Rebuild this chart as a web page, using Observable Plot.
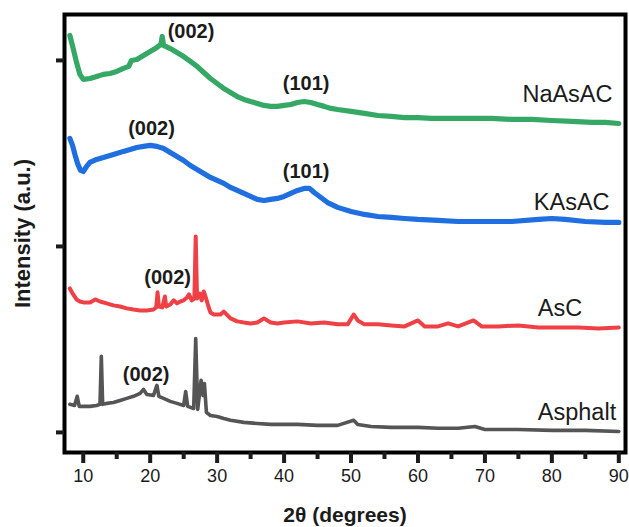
<!DOCTYPE html>
<html>
<head>
<meta charset="utf-8">
<script src="https://cdn.jsdelivr.net/npm/d3@7"></script>
<script src="https://cdn.jsdelivr.net/npm/@observablehq/plot@0.6"></script>
<style>
  html, body { margin: 0; padding: 0; background: #fff; }
  #chart svg { display: block; }
</style>
</head>
<body>
<div id="chart"></div>
<script>
// XRD patterns, stacked with vertical offsets: [2θ (deg), intensity (a.u.)]
const naAsAC = [
  [8.0,2134],[8.5,2064],[9.0,1989],[9.5,1925],[10,1898],[11,1903],[12,1914],[13,1925],
  [14,1930],[15,1941],[16,1957],[16.8,1968],[17.2,2000],[18,2005],[19,2027],[20,2048],
  [21,2070],[21.6,2086],[21.8,2129],[22,2081],[23,2064],[24,2043],[25,2021],[26,1995],
  [27,1968],[28,1935],[29,1903],[30,1876],[31,1849],[32,1828],[33,1806],[34,1790],
  [35,1779],[36,1769],[37,1758],[38,1753],[39,1753],[40,1758],[41,1763],[42,1774],
  [43,1779],[44,1774],[45,1763],[46,1753],[47,1742],[48,1736],[50,1726],[52,1715],
  [54,1704],[56,1699],[58,1693],[60,1693],[62,1688],[65,1688],[68,1688],[71,1688],
  [74,1683],[77,1683],[80,1677],[83,1672],[86,1667],[88,1667],[90,1661]
];
const kAsAC = [
  [8.0,1581],[8.4,1543],[8.8,1489],[9.2,1441],[9.6,1409],[10,1403],[10.5,1430],[11,1452],
  [12,1468],[13,1478],[14,1489],[15,1500],[16,1511],[17,1521],[18,1532],[19,1538],
  [20,1543],[21,1538],[22,1527],[23,1505],[24,1484],[25,1462],[26,1435],[27,1414],
  [28,1392],[29,1371],[30,1355],[31,1339],[32,1317],[33,1301],[34,1285],[35,1269],
  [36,1253],[37,1247],[38,1253],[39,1258],[40,1269],[41,1285],[42,1301],[43,1312],
  [43.8,1312],[44.5,1290],[45.5,1263],[46.5,1236],[48,1210],[50,1188],[52,1172],[54,1161],
  [56,1156],[58,1150],[60,1145],[63,1140],[66,1134],[70,1134],[74,1134],[78,1145],
  [80,1150],[82,1145],[85,1134],[88,1129],[90,1129]
];
const asC = [
  [8.0,774],[8.5,742],[9.0,715],[9.5,704],[10,699],[11,699],[11.8,715],[12.5,704],
  [13.5,694],[14.5,683],[15.5,677],[16.5,667],[17.5,661],[18.5,656],[19.5,656],[20.5,661],
  [20.9,672],[21.1,753],[21.3,677],[21.8,672],[22.2,731],[22.4,677],[23.0,688],[23.5,710],
  [24.0,694],[24.5,704],[25.0,710],[25.5,726],[25.8,742],[26.2,710],[26.6,720],[26.8,1054],
  [27.0,720],[27.4,747],[27.7,710],[28.0,758],[28.3,726],[28.7,677],[29.0,645],[29.5,634],
  [30.5,634],[31,650],[32,613],[33,597],[34,591],[35,586],[36,591],[37,613],
  [38,591],[39,586],[40,591],[42,597],[44,586],[46,591],[48,581],[49.5,581],
  [50.4,634],[51,602],[52,581],[54,581],[56,575],[58,570],[60,602],[61,570],
  [63,570],[64.5,586],[66,570],[68.3,602],[69.5,570],[72,570],[75,575],[78,564],
  [81,564],[84,564],[87,559],[90,564]
];
const asphalt = [
  [8.0,151],[8.7,145],[9.1,194],[9.4,140],[10,140],[11,140],[12,145],[12.5,151],
  [12.7,409],[12.9,151],[13.5,156],[14.5,161],[15.5,172],[16.5,183],[17.5,194],[18.5,210],
  [19.0,231],[19.5,204],[20.5,199],[21.0,253],[21.3,194],[22,183],[23,167],[24,156],
  [25,145],[25.3,220],[25.6,140],[26.5,129],[26.8,505],[27.1,124],[27.6,280],[27.9,199],
  [28.1,263],[28.4,108],[29,91],[30,86],[31,75],[32,65],[34,54],[36,48],
  [38,43],[40,43],[42,43],[45,38],[48,38],[50.4,65],[51,43],[53,32],
  [56,27],[60,27],[63,22],[66,22],[68.5,32],[70,16],[75,16],[80,11],
  [85,11],[90,5]
];

const sampleNames = ["NaAsAC", "KAsAC", "AsC", "Asphalt"];
const samplePatterns = [naAsAC, kAsAC, asC, asphalt];

// Sample name annotations (left edge of text, vertical centre)
const nameX = [75.6, 77.3, 77.9, 77.9];
const nameY = [1817, 1236, 667, 108];

// Reflection annotations
const hklText = ["(002)", "(101)", "(002)", "(101)", "(002)", "(002)"];
const hklX = [26.1, 43.3, 20.2, 43.3, 22.6, 19.4];
const hklY = [2156, 1876, 1634, 1403, 833, 312];

const xTicks = [10, 20, 30, 40, 50, 60, 70, 80, 90];
const xMinorTicks = [15, 25, 35, 45, 55, 65, 75, 85];
const yTicks = [0, 1000, 2000];

const palette = ["#35a865", "#1f6fe0", "#ef4045", "#555555"];
const lineWidths = [5.2, 5.2, 4, 3.6];

const rows = sampleNames.flatMap((name, i) =>
  samplePatterns[i].map(([t, v]) => ({sample: name, t, v}))
);
const nameRows = sampleNames.map((name, i) => ({name, x: nameX[i], y: nameY[i]}));
const hklRows = hklText.map((text, i) => ({text, x: hklX[i], y: hklY[i]}));

const font = "'Liberation Sans', Arial, Helvetica, sans-serif";
const ink = "#1b1b1b";

const chart = Plot.plot({
  width: 629,
  height: 527,
  marginLeft: 64,
  marginRight: 4,
  marginTop: 14,
  marginBottom: 75,
  style: {fontFamily: font, background: "#fff", color: ink},
  x: {domain: [7.2, 91]},
  y: {domain: [-108, 2247]},
  color: {domain: sampleNames, range: palette},
  marks: [
    ...sampleNames.map((name, i) =>
      Plot.line(rows.filter(d => d.sample === name), {
        x: "t", y: "v", stroke: "sample", strokeWidth: lineWidths[i]
      })
    ),
    Plot.text(hklRows, {
      x: "x", y: "y", text: "text", fontSize: 20, fontWeight: "bold", fill: ink
    }),
    Plot.text(nameRows, {
      x: "x", y: "y", text: "name", textAnchor: "start", fontSize: 23.5, fill: ink
    }),
    Plot.frame({stroke: "#000", strokeWidth: 4}),
    Plot.axisX({
      ticks: xTicks, tickSize: 11, tickPadding: 6, strokeWidth: 4,
      fontSize: 18, label: null, color: ink
    }),
    Plot.axisX({
      ticks: xMinorTicks, tickSize: 7, strokeWidth: 4,
      tickFormat: () => "", label: null
    }),
    Plot.axisY({
      ticks: yTicks, tickSize: 8, strokeWidth: 4,
      tickFormat: () => "", label: null
    }),
    Plot.text(["2θ (degrees)"], {
      frameAnchor: "bottom", lineAnchor: "middle", dy: 63,
      fontSize: 21, fontWeight: "bold", fill: ink
    }),
    Plot.text(["Intensity (a.u.)"], {
      frameAnchor: "left", textAnchor: "middle", lineAnchor: "middle",
      dx: -42, rotate: -90, fontSize: 22, fontWeight: "bold", fill: ink
    })
  ]
});

document.getElementById("chart").appendChild(chart);
</script>
</body>
</html>
